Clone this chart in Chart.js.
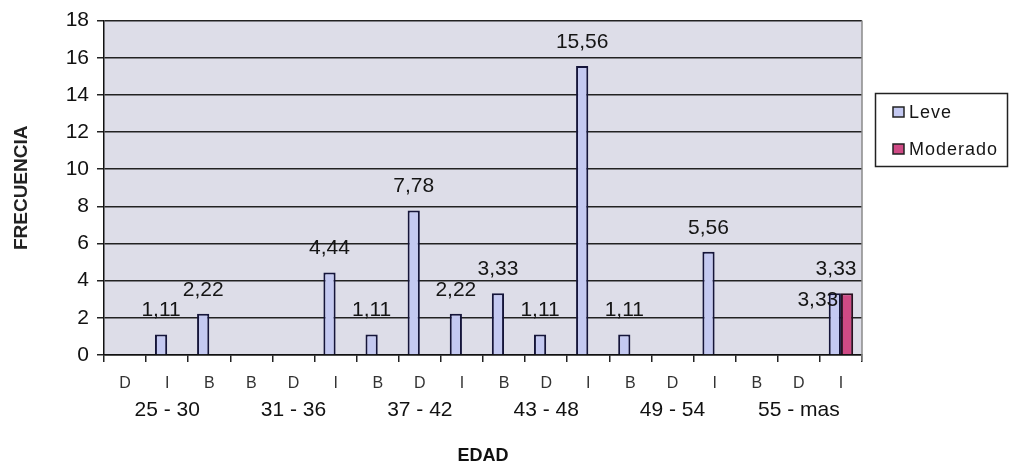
<!DOCTYPE html>
<html>
<head>
<meta charset="utf-8">
<script src="https://cdn.jsdelivr.net/npm/chart.js@4.4.1/dist/chart.umd.min.js"></script>
<style>
  html, body { margin: 0; padding: 0; background: #fff; }
  #wrap { width: 1009px; height: 468px; position: relative; }
</style>
</head>
<body>
<div id="wrap"><canvas id="chart"></canvas></div>
<script>
// categories and values
const categories = ["D", "I", "B", "B", "D", "I", "B", "D", "I", "B", "D", "I", "B", "D", "I", "B", "D", "I"];
const ageGroups = ["25 - 30", "31 - 36", "37 - 42", "43 - 48", "49 - 54", "55 - mas"];
const leve = [null, 1.11, 2.22, null, null, 4.44, 1.11, 7.78, 2.22, 3.33, 1.11, 15.56, 1.11, null, 5.56, null, null, 3.33];
const moderado = [null, null, null, null, null, null, null, null, null, null, null, null, null, null, null, null, null, 3.33];
const yMin = 0;
const yMax = 18;
const yStep = 2;

const FONT = "'Liberation Sans', Arial, sans-serif";

// grey-lilac plot background + right border
const plotBg = {
  id: "plotBg",
  beforeDraw(chart) {
    const { ctx, chartArea: a } = chart;
    ctx.save();
    ctx.fillStyle = "#dddde8";
    ctx.fillRect(a.left, a.top, a.right - a.left, a.bottom - a.top);
    ctx.restore();
  },
  afterDraw(chart) {
    const { ctx, chartArea: a } = chart;
    ctx.save();
    ctx.strokeStyle = "#8a8a8a";
    ctx.lineWidth = 1.5;
    ctx.beginPath();
    ctx.moveTo(a.right, a.top);
    ctx.lineTo(a.right, a.bottom + 6);
    ctx.stroke();
    ctx.restore();
  }
};

// value labels above the bars ("1,11")
const valueLabels = {
  id: "valueLabels",
  afterDatasetsDraw(chart) {
    const { ctx } = chart;
    const sets = chart.data.datasets;
    ctx.save();
    ctx.font = "21px " + FONT;
    ctx.fillStyle = "#151515";
    ctx.textAlign = "center";
    ctx.textBaseline = "middle";
    sets.forEach((ds, di) => {
      const meta = chart.getDatasetMeta(di);
      meta.data.forEach((bar, i) => {
        const v = ds.data[i];
        if (v == null) return;
        const shared = sets.every(s => s.data[i] != null);
        let dx = 0, dy = -24;
        if (shared && di === 0) { dx = -17; dy = 7; }
        if (shared && di === 1) { dx = -11; }
        ctx.fillText(v.toFixed(2).replace(".", ","), bar.x + dx, bar.y + dy);
      });
    });
    ctx.restore();
  }
};

// boxed legend on the right
const boxLegend = {
  id: "boxLegend",
  afterDraw(chart) {
    const { ctx } = chart;
    ctx.save();
    ctx.fillStyle = "#fff";
    ctx.fillRect(875, 93, 133, 74);
    ctx.strokeStyle = "#222";
    ctx.lineWidth = 1.5;
    ctx.strokeRect(875.5, 93.5, 132, 73);
    ctx.font = "18px " + FONT;
    ctx.textBaseline = "middle";
    ctx.letterSpacing = "1px";
    chart.data.datasets.forEach((ds, i) => {
      const y = 112 + i * 37;
      ctx.fillStyle = ds.backgroundColor;
      ctx.fillRect(893, y - 5, 11, 10);
      ctx.strokeStyle = "#222";
      ctx.lineWidth = 1.5;
      ctx.strokeRect(893, y - 5, 11, 10);
      ctx.fillStyle = "#151515";
      ctx.fillText(ds.label, 909, y + 1);
    });
    ctx.restore();
  }
};

new Chart(document.getElementById("chart"), {
  type: "bar",
  data: {
    labels: categories,
    datasets: [
      {
        label: "Leve",
        data: leve,
        backgroundColor: "#c4c9f1",
        borderColor: "#15153a",
        borderWidth: 2,
        barPercentage: 1,
        categoryPercentage: 0.58
      },
      {
        label: "Moderado",
        data: moderado,
        backgroundColor: "#cf4a85",
        borderColor: "#2a1020",
        borderWidth: 2,
        barPercentage: 1,
        categoryPercentage: 0.58
      }
    ]
  },
  options: {
    responsive: true,
    maintainAspectRatio: false,
    animation: false,
    devicePixelRatio: 1,
    layout: { padding: { top: 16, right: 147, bottom: 0, left: 0 } },
    plugins: {
      legend: { display: false },
      tooltip: { enabled: false }
    },
    scales: {
      x: {
        offset: true,
        grid: { drawOnChartArea: false, drawTicks: true, tickLength: 7, color: "#222", lineWidth: 1.5, offset: true },
        border: { display: true, color: "#111", width: 1.5 },
        ticks: { color: "#333", font: { family: FONT, size: 16 }, padding: 12, autoSkip: false, maxRotation: 0 },
        afterFit: s => { s.height = 36; }
      },
      x2: {
        type: "category",
        labels: ageGroups,
        position: "bottom",
        offset: true,
        grid: { display: false, drawTicks: false },
        border: { display: false },
        ticks: { color: "#111", font: { family: FONT, size: 21 }, padding: 7, autoSkip: false, maxRotation: 0 },
        title: { display: true, text: "EDAD", color: "#111", font: { family: FONT, size: 18, weight: "bold" }, padding: { top: 0, bottom: 1 } },
        afterFit: s => { s.height = 77; }
      },
      y: {
        min: yMin,
        max: yMax,
        ticks: { stepSize: yStep, color: "#111", font: { family: FONT, size: 21 }, padding: 8 },
        grid: { color: "#222", lineWidth: 1.5, tickLength: 7, drawTicks: true },
        border: { color: "#111", width: 1.5 },
        title: { display: true, text: "FRECUENCIA", color: "#222", font: { family: FONT, size: 19, weight: "bold" }, padding: { top: 10, bottom: 0 } },
        afterFit: s => { s.width = 104; }
      }
    }
  },
  plugins: [plotBg, valueLabels, boxLegend]
});
</script>
</body>
</html>
